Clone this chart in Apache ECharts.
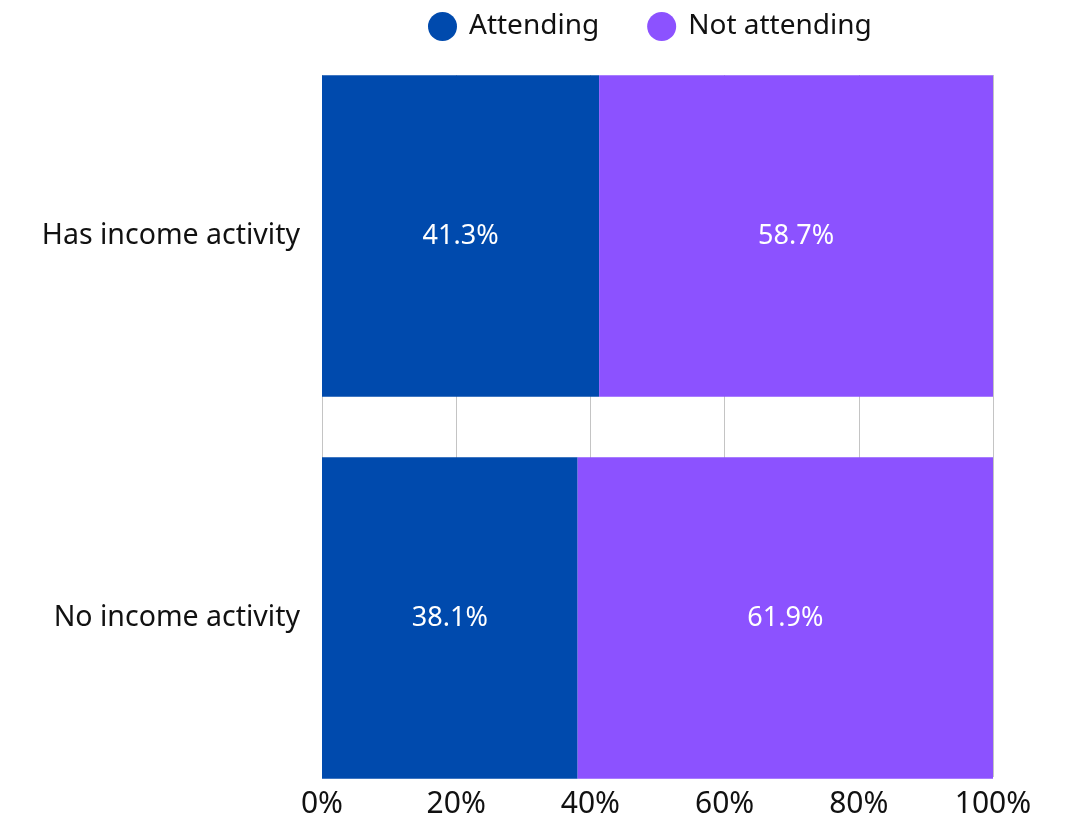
<!DOCTYPE html>
<html><head><meta charset="utf-8">
<script src="https://cdn.jsdelivr.net/npm/echarts@6/dist/echarts.min.js"></script>
<style>html,body{margin:0;padding:0;background:#fff}#c{width:1072px;height:819px}</style>
</head><body><div id="c"></div>
<script>
const categories = ['Has income activity', 'No income activity'];
const attending = [41.3, 38.1];
const notAttending = [58.7, 61.9];
const xTicks = [0, 20, 40, 60, 80, 100];

const FONT = 'Noto Sans';
const chart = echarts.init(document.getElementById('c'));
chart.setOption({
  backgroundColor: '#fff',
  textStyle: { fontFamily: FONT },
  legend: {
    data: ['Attending', 'Not attending'],
    top: 7, left: 423,
    icon: 'circle', itemWidth: 29, itemHeight: 29, itemGap: 48,
    textStyle: { fontSize: 28, color: '#111', fontFamily: FONT, padding: [0, 0, 0, 7] }
  },
  grid: [
    { left: 322, right: 79, top: 75, bottom: 41 },
    { left: 322, right: 79, top: 45, bottom: 10 }
  ],
  xAxis: [
    { gridIndex: 0, type: 'value', min: xTicks[0], max: xTicks[xTicks.length - 1], interval: 20,
      axisLine: { show: false }, axisTick: { show: false },
      splitLine: { show: true, lineStyle: { color: '#c4c4c4', width: 1 } },
      axisLabel: { formatter: '{value}%', fontSize: 30, color: '#111', margin: 12, fontFamily: FONT } },
    { gridIndex: 1, type: 'value', min: 0, max: 100, show: false, splitLine: { show: false } }
  ],
  yAxis: [
    { gridIndex: 0, type: 'value', show: false, min: 0, max: 1, splitLine: { show: false } },
    { gridIndex: 1, type: 'category', data: categories, inverse: true,
      axisLine: { show: false }, axisTick: { show: false },
      axisLabel: { fontSize: 28.5, color: '#111', margin: 22, fontFamily: FONT } }
  ],
  series: [
    { name: 'Attending', type: 'bar', stack: 'a', xAxisIndex: 1, yAxisIndex: 1,
      data: attending, barCategoryGap: '15.8%', itemStyle: { color: '#004AAD' },
      label: { show: true, position: 'inside', color: '#fff', fontSize: 27, fontFamily: FONT,
        formatter: p => p.value.toFixed(1) + '%' } },
    { name: 'Not attending', type: 'bar', stack: 'a', xAxisIndex: 1, yAxisIndex: 1,
      data: notAttending, itemStyle: { color: '#8C52FF' },
      label: { show: true, position: 'inside', color: '#fff', fontSize: 27, fontFamily: FONT,
        formatter: p => p.value.toFixed(1) + '%' } }
  ]
});
</script></body></html>
